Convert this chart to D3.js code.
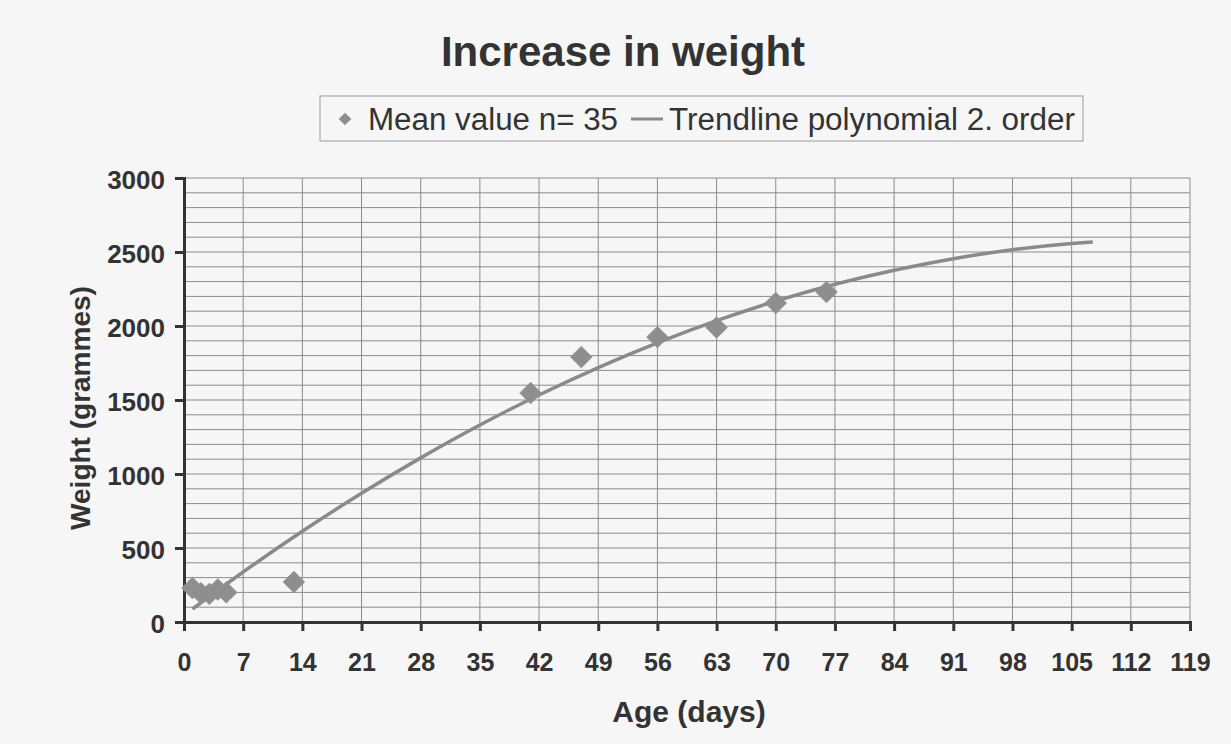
<!DOCTYPE html>
<html>
<head>
<meta charset="utf-8">
<script src="https://cdn.jsdelivr.net/npm/d3@7"></script>
<style>
  body { margin: 0; background: #f6f6f6; }
  #chart { width: 1231px; height: 744px; }
  text { font-family: "Liberation Sans", Arial, sans-serif; fill: #333; }
</style>
</head>
<body>
<div id="chart"></div>
<script>
// measured values (mean weight per age)
const ages    = [1, 2, 3, 4, 5, 13, 41, 47, 56, 63, 70, 76];
const weights = [230, 195, 190, 220, 200, 270, 1547, 1790, 1925, 1990, 2155, 2230];

// trendline
const trendAges    = [1, 7, 14, 21, 28, 35, 42, 49, 56, 63, 70, 77, 84, 91, 98, 105, 107.5];
const trendWeights = [88, 338, 613, 870, 1109, 1331, 1534, 1719, 1886, 2036, 2168, 2282, 2377, 2455, 2515, 2557, 2568];

const xTicks = d3.range(0, 120, 7);
const yTicks = [0, 500, 1000, 1500, 2000, 2500, 3000];

const width = 1231, height = 744;
const margin = {top: 178, left: 184, right: 41, bottom: 122};

const svg = d3.select("#chart")
    .append("svg")
    .attr("width", width)
    .attr("height", height);

const xScale = d3.scaleLinear()
    .domain([0, 119])
    .range([margin.left, width - margin.right]);

const yScale = d3.scaleLinear()
    .domain([0, 3000])
    .range([height - margin.bottom, margin.top]);

/* GRID */
svg.append("g")
    .selectAll("line")
    .data(d3.range(100, 3001, 100))
    .join("line")
    .attr("x1", xScale(0)).attr("x2", xScale(119))
    .attr("y1", d => yScale(d)).attr("y2", d => yScale(d))
    .attr("stroke", "#8c8c8c")
    .attr("stroke-width", 1);

svg.append("g")
    .selectAll("line")
    .data(xTicks.slice(1))
    .join("line")
    .attr("x1", d => xScale(d)).attr("x2", d => xScale(d))
    .attr("y1", yScale(0)).attr("y2", yScale(3000))
    .attr("stroke", "#8c8c8c")
    .attr("stroke-width", 1);

/* AXES */
const xAxis = svg.append("g")
    .attr("transform", `translate(0,${yScale(0)})`)
    .call(d3.axisBottom(xScale).tickValues(xTicks).tickSize(9).tickPadding(22));

const yAxis = svg.append("g")
    .attr("transform", `translate(${xScale(0)},0)`)
    .call(d3.axisLeft(yScale).tickValues(yTicks).tickFormat(d3.format("d")).tickSize(9).tickPadding(10));

[xAxis, yAxis].forEach(function(ax) {
    ax.select(".domain").attr("stroke", "#333").attr("stroke-width", 3);
    ax.selectAll(".tick line").attr("stroke", "#333").attr("stroke-width", 3);
    ax.selectAll(".tick text")
        .attr("fill", "#333")
        .style("font-family", "'Liberation Sans', Arial, sans-serif")
        .style("font-weight", "bold")
        .style("font-size", "25px");
});
yAxis.selectAll(".tick text").attr("dy", "0.4em").style("font-size", "26px");

/* TRENDLINE */
const line = d3.line()
    .x((d, i) => xScale(trendAges[i]))
    .y(d => yScale(d))
    .curve(d3.curveMonotoneX);

svg.append("path")
    .datum(trendWeights)
    .attr("d", line)
    .attr("fill", "none")
    .attr("stroke", "#8a8a8a")
    .attr("stroke-width", 3.5);

/* POINTS */
const diamond = d3.symbol().type(d3.symbolSquare).size(240);

svg.append("g")
    .selectAll("path")
    .data(ages)
    .join("path")
    .attr("d", diamond)
    .attr("transform", (d, i) => `translate(${xScale(d)},${yScale(weights[i])}) rotate(45)`)
    .attr("fill", "#8e8e8e")
    .attr("stroke", "#999")
    .attr("stroke-width", 0.5);

/* TITLE + LABELS */
svg.append("text")
    .attr("x", 623).attr("y", 66)
    .attr("text-anchor", "middle")
    .style("font-size", "42px").style("font-weight", "bold")
    .text("Increase in weight");

svg.append("text")
    .attr("x", 689).attr("y", 722)
    .attr("text-anchor", "middle")
    .style("font-size", "30px").style("font-weight", "bold")
    .text("Age (days)");

svg.append("text")
    .attr("transform", "rotate(-90)")
    .attr("x", -408).attr("y", 90)
    .attr("text-anchor", "middle")
    .style("font-size", "28px").style("font-weight", "bold")
    .text("Weight (grammes)");

/* LEGEND */
const legend = svg.append("g");
legend.append("rect")
    .attr("x", 320).attr("y", 96)
    .attr("width", 763).attr("height", 45)
    .attr("fill", "none")
    .attr("stroke", "#999")
    .attr("stroke-width", 1);

legend.append("path")
    .attr("d", d3.symbol().type(d3.symbolSquare).size(80))
    .attr("transform", "translate(345,119) rotate(45)")
    .attr("fill", "#8e8e8e");

legend.append("text")
    .attr("x", 368).attr("y", 130)
    .attr("textLength", 250).attr("lengthAdjust", "spacingAndGlyphs")
    .style("font-size", "31px")
    .text("Mean value n= 35");

legend.append("line")
    .attr("x1", 631).attr("x2", 663)
    .attr("y1", 119).attr("y2", 119)
    .attr("stroke", "#8a8a8a")
    .attr("stroke-width", 3);

legend.append("text")
    .attr("x", 669).attr("y", 130)
    .attr("textLength", 406).attr("lengthAdjust", "spacingAndGlyphs")
    .style("font-size", "31px")
    .text("Trendline polynomial 2. order");
</script>
</body>
</html>
